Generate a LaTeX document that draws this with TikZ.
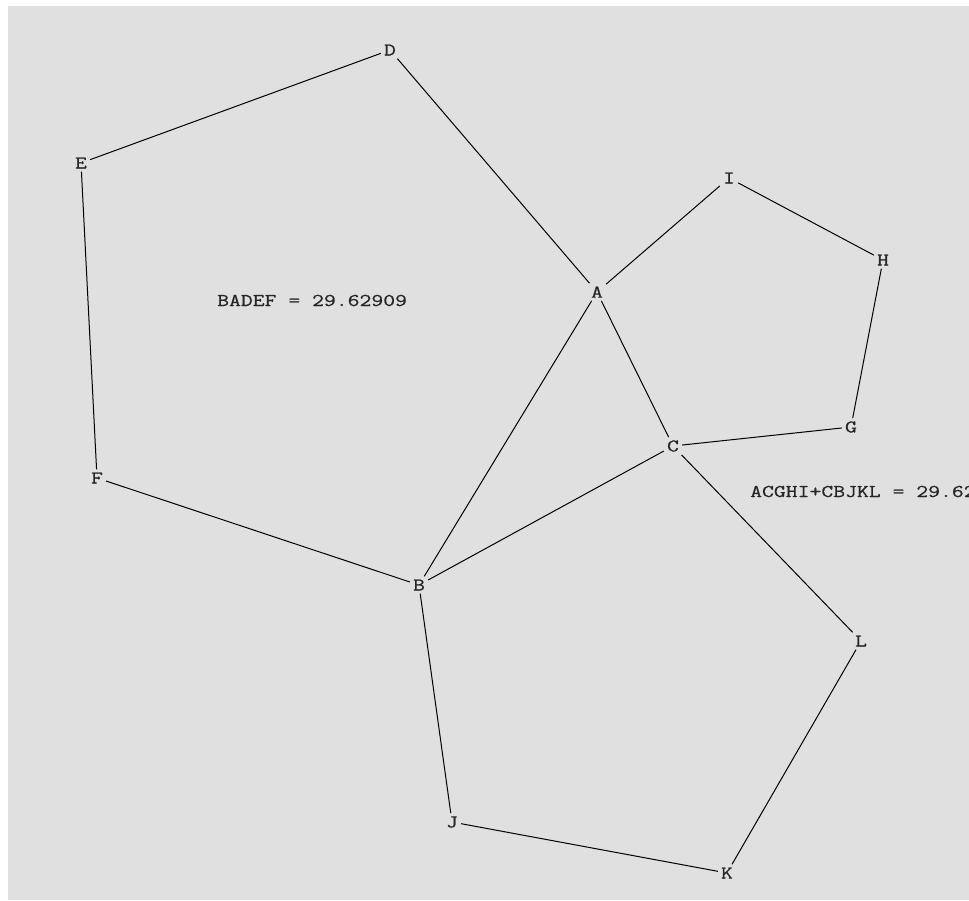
\documentclass[tikz,border=0pt]{standalone}
\usepackage{fontspec}
\newfontfamily\refmono[FakeStretch=1.28,FakeBold=0.7]{Latin Modern Mono}
\definecolor{bg}{HTML}{E0E0E0}
\begin{document}
\begin{tikzpicture}[x=1pt,y=-1pt,
  pt/.style={font=\refmono\fontsize{18}{18}\selectfont, inner sep=3pt, text=black!85},
  edge/.style={draw=black, line width=1pt},
  lbl/.style={font=\refmono\fontsize{18}{18}\selectfont, anchor=base west, inner sep=0pt, text=black!85}]
\useasboundingbox (0,0) rectangle (969,900);
\fill[white] (0,0) rectangle (969,900);
\fill[bg] (8,6) rectangle (969,900);
\begin{scope}
\clip (0,0) rectangle (969,900);
\node[pt] (D) at (390,50) {D};
\node[pt] (E) at (81,163) {E};
\node[pt] (I) at (729,178) {I};
\node[pt] (H) at (883,260) {H};
\node[pt] (A) at (597,292) {A};
\node[pt] (G) at (851,427) {G};
\node[pt] (C) at (673,446) {C};
\node[pt] (F) at (97,478) {F};
\node[pt] (B) at (419,585) {B};
\node[pt] (L) at (861,641) {L};
\node[pt] (J) at (452,822) {J};
\node[pt] (K) at (727,873) {K};
\node[lbl] (t1) at (217,306) {BADEF = 29.62909};
\node[lbl] (t2) at (750,497) {ACGHI+CBJKL = 29.62909};
\draw[edge] (B) -- (A) -- (D) -- (E) -- (F) -- (B);
\draw[edge] (A) -- (C) -- (G) -- (H) -- (I) -- (A);
\draw[edge] (C) -- (B) -- (J) -- (K) -- (L) -- (C);
\end{scope}
\end{tikzpicture}
\end{document}
